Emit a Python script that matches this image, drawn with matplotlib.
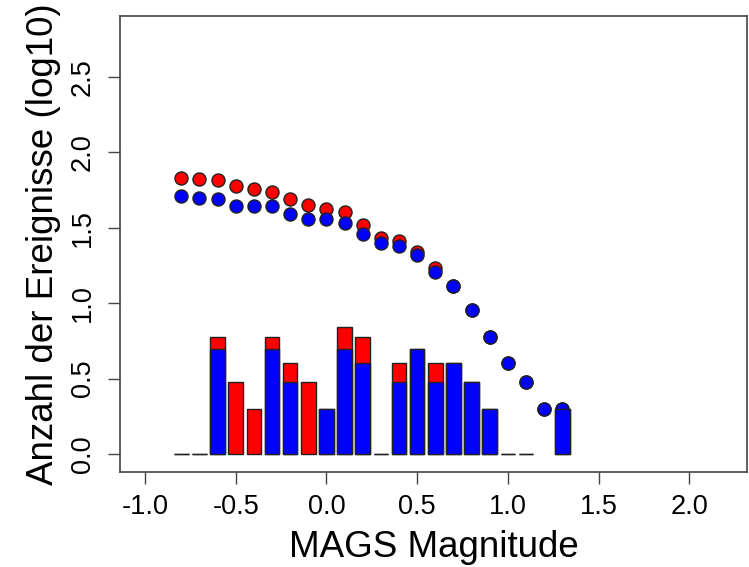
import numpy as np
import matplotlib.pyplot as plt

plt.rcParams['font.family'] = ['Liberation Sans', 'DejaVu Sans']

# magnitude bins
mags = [-0.8, -0.7, -0.6, -0.5, -0.4, -0.3, -0.2, -0.1, 0.0, 0.1, 0.2,
        0.3, 0.4, 0.5, 0.6, 0.7, 0.8, 0.9, 1.0, 1.1, 1.2, 1.3]

# log10 counts per bin (all events, red) and subset (blue); nan = empty bin
bar_all = [0.0, 0.0, 0.778, 0.477, 0.301, 0.778, 0.602, 0.477, 0.301, 0.845, 0.778,
           0.0, 0.602, 0.699, 0.602, 0.602, 0.477, 0.301, 0.0, 0.0, np.nan, 0.301]
bar_sub = [0.0, 0.0, 0.699, np.nan, np.nan, 0.699, 0.477, np.nan, 0.301, 0.699, 0.602,
           0.0, 0.477, 0.699, 0.477, 0.602, 0.477, 0.301, 0.0, 0.0, np.nan, 0.301]

# log10 cumulative counts
cum_all = [1.833, 1.826, 1.820, 1.778, 1.756, 1.740, 1.690, 1.653, 1.623, 1.602, 1.519,
           1.431, 1.415, 1.342, 1.230, 1.114, 0.954, 0.778, 0.602, 0.477, 0.301, 0.301]
cum_sub = [1.708, 1.699, 1.690, 1.643, 1.643, 1.643, 1.591, 1.556, 1.556, 1.531, 1.462,
           1.398, 1.380, 1.322, 1.204, 1.114, 0.954, 0.778, 0.602, 0.477, 0.301, 0.301]

x_ticks = [-1.0, -0.5, 0.0, 0.5, 1.0, 1.5, 2.0]
y_ticks = [0.0, 0.5, 1.0, 1.5, 2.0, 2.5]

fig = plt.figure(figsize=(7.49, 5.67), dpi=100)
ax = fig.add_axes([120/749, 1 - 472/567, (747 - 120)/749, (472 - 16)/567])

ax.plot(mags, cum_all, 'o', color='#ff0000', mec='#222222', ms=9.4, mew=1, zorder=2)
ax.plot(mags, cum_sub, 'o', color='#0000ff', mec='#222222', ms=9.4, mew=1, zorder=3)

ax.bar(mags, bar_all, width=0.08, color='#ff0000', edgecolor='#222222', linewidth=1, zorder=4)
ax.bar(mags, bar_sub, width=0.08, color='#0000ff', edgecolor='#222222', linewidth=1, zorder=5)

ax.set_xlim(-1.138, 2.318)
ax.set_ylim(-0.12, 2.905)
ax.set_xticks(x_ticks)
ax.set_xticklabels(['%.1f' % v for v in x_ticks])
ax.set_yticks(y_ticks)
ax.set_yticklabels(['%.1f' % v for v in y_ticks], rotation=90, va='center')
ax.tick_params(labelsize=19.5, length=8.5, width=1, color='#444444')
ax.tick_params(axis='x', pad=7.5)
ax.tick_params(axis='y', pad=9)
for s in ax.spines.values():
    s.set_color('#444444')
    s.set_linewidth(1.2)

ax.set_xlabel('MAGS Magnitude', fontsize=26.5, labelpad=7)
ax.set_ylabel('Anzahl der Ereignisse (log10)', fontsize=26.5, labelpad=6)

fig.savefig('out.png', dpi=100)
